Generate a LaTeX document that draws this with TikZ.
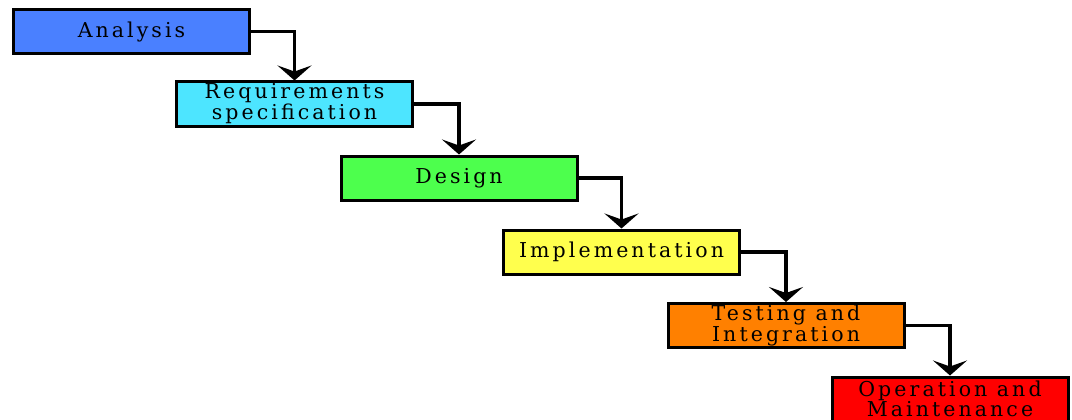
\documentclass[tikz,border=0pt]{standalone}
\usepackage{fontspec}
\usepackage{xcolor}
\usetikzlibrary{arrows.meta}
\newfontfamily\phasefont[LetterSpace=15]{DejaVu Serif}
\definecolor{anablue}{HTML}{4A80FF}
\definecolor{reqcyan}{HTML}{4DE5FF}
\definecolor{desgreen}{HTML}{4DFF4D}
\definecolor{impyellow}{HTML}{FFFF4D}
\definecolor{tstorange}{HTML}{FF8000}
\definecolor{opred}{HTML}{FF0000}

\begin{document}
\begin{tikzpicture}[x=1pt, y=-1pt,
    phase/.style={draw=black, line width=3pt, minimum width=236pt, minimum height=44pt,
      inner sep=0pt, align=center, font=\phasefont\fontsize{20.5}{15}\selectfont},
    flow/.style={draw=black, line width=3.5pt, -{Stealth[length=15pt, width=34pt, inset=6pt]}}]
  \useasboundingbox (0,0) rectangle (1072,420);
  \node [phase, fill=anablue] (ana) at (131.5,31.5) {Analysis};
  \node [phase, fill=reqcyan] (req) at (294.5,104) {Requirements\\specification};
  \node [phase, fill=desgreen] (des) at (459,178) {Design};
  \node [phase, fill=impyellow] (imp) at (621.5,252) {Implementation};
  \node [phase, fill=tstorange] (tst) at (786,325.5) {Testing and\\Integration};
  \node [phase, fill=opred] (ops) at (950,399) {Operation and\\Maintenance};
  \draw [flow] (ana.east) -| (req.north);
  \draw [flow] (req.east) -| (des.north);
  \draw [flow] (des.east) -| (imp.north);
  \draw [flow] (imp.east) -| (tst.north);
  \draw [flow] (tst.east) -| (ops.north);
\end{tikzpicture}
\end{document}
